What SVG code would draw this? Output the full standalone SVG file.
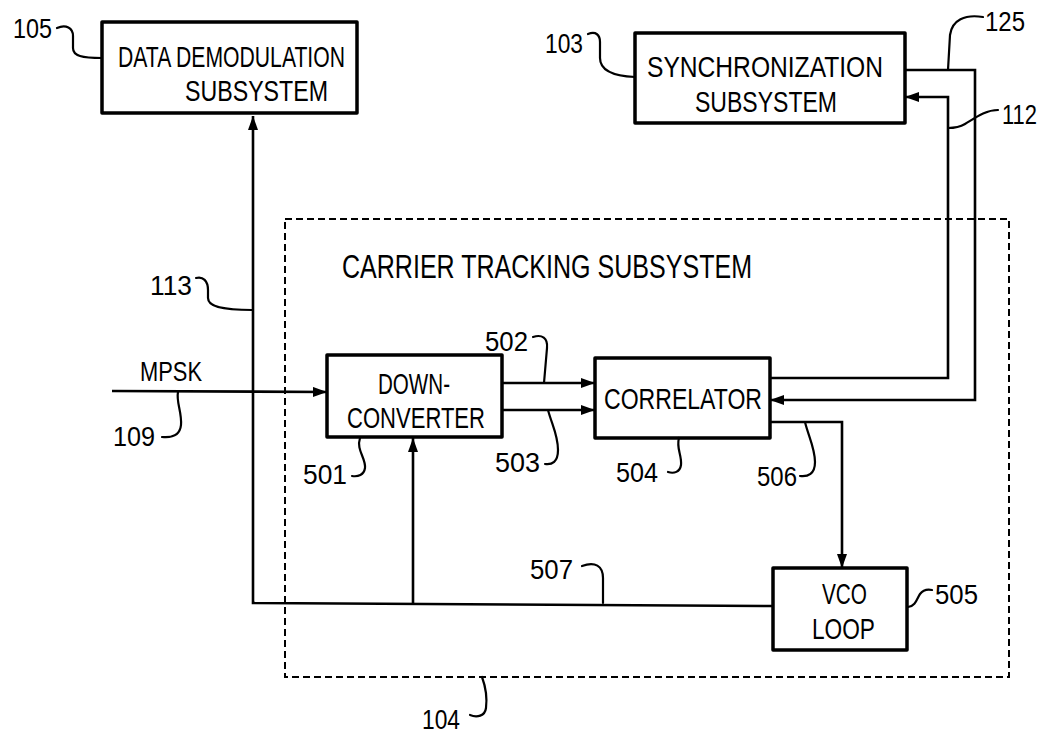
<svg xmlns="http://www.w3.org/2000/svg" width="1049" height="736" viewBox="0 0 1049 736">
<style>
  .box{fill:#fff;stroke:#000;stroke-width:3.5;stroke-linejoin:round}
  .t{font-family:"Liberation Sans",Arial,sans-serif;font-size:29px;fill:#000}
  .h{font-family:"Liberation Sans",Arial,sans-serif;font-size:34px;fill:#000}
  .l{font-family:"Liberation Sans",Arial,sans-serif;font-size:28px;fill:#000}
  .c{fill:none;stroke:#000;stroke-width:2.6}
  .ld{fill:none;stroke:#000;stroke-width:2.2;stroke-linecap:round}
  .dash{fill:none;stroke:#000;stroke-width:2;stroke-dasharray:7 4}
</style>
<defs>
  <marker id="ah" viewBox="0 0 14 10" refX="14" refY="5" markerWidth="14" markerHeight="10" orient="auto" markerUnits="userSpaceOnUse">
    <path d="M0,0 L14,5 L0,10 z" fill="#000"/>
  </marker>
</defs>
<rect width="1049" height="736" fill="#fff"/>

<g id="carrier-tracking-subsystem">
  <rect class="dash" x="285" y="219" width="724" height="458"/>
  <text class="h" x="342" y="278" textLength="410" lengthAdjust="spacingAndGlyphs">CARRIER TRACKING SUBSYSTEM</text>
</g>

<g id="connectors">
  <path class="c" d="M773,606 L253,603 L253,116" marker-end="url(#ah)"/>
  <path class="c" d="M413,603 L413,438" marker-end="url(#ah)"/>
  <path class="c" d="M112,391 L327,392" marker-end="url(#ah)"/>
  <path class="c" d="M502,383 L595,383" marker-end="url(#ah)"/>
  <path class="c" d="M502,410 L595,410" stroke-width="3.6" marker-end="url(#ah)"/>
  <path class="c" d="M770,378 L948,378 L948,97 L905,97" marker-end="url(#ah)"/>
  <path class="c" d="M905,70 L975,70 L975,400 L770,400" marker-end="url(#ah)"/>
  <path class="c" d="M770,422 L842,422 L842,568" marker-end="url(#ah)"/>
</g>

<g id="data-demodulation">
  <rect class="box" x="102" y="22" width="255" height="91"/>
  <text class="t" x="118" y="67" textLength="227" lengthAdjust="spacingAndGlyphs">DATA DEMODULATION</text>
  <text class="t" x="185" y="101" textLength="143" lengthAdjust="spacingAndGlyphs">SUBSYSTEM</text>
</g>

<g id="synchronization">
  <rect class="box" x="635" y="33" width="270" height="90"/>
  <text class="t" x="647" y="77" textLength="236" lengthAdjust="spacingAndGlyphs">SYNCHRONIZATION</text>
  <text class="t" x="695" y="112" textLength="142" lengthAdjust="spacingAndGlyphs">SUBSYSTEM</text>
</g>

<g id="down-converter">
  <rect class="box" x="327" y="355" width="175" height="82"/>
  <text class="t" x="378" y="394" textLength="72" lengthAdjust="spacingAndGlyphs">DOWN-</text>
  <text class="t" x="347" y="428" textLength="138" lengthAdjust="spacingAndGlyphs">CONVERTER</text>
</g>

<g id="correlator">
  <rect class="box" x="595" y="358" width="175" height="80"/>
  <text class="t" x="604" y="409" textLength="158" lengthAdjust="spacingAndGlyphs">CORRELATOR</text>
</g>

<g id="vco-loop">
  <rect class="box" x="773" y="568" width="134" height="82"/>
  <text class="t" x="822" y="604" textLength="45" lengthAdjust="spacingAndGlyphs">VCO</text>
  <text class="t" x="812" y="639" textLength="63" lengthAdjust="spacingAndGlyphs">LOOP</text>
</g>

<g id="labels">
  <text class="l" x="13" y="38" textLength="39" lengthAdjust="spacingAndGlyphs">105</text>
  <path class="ld" d="M57,28 C66,24 73,28 73,36 L73,48 C73,56 82,58 102,58"/>
  <text class="l" x="545" y="53" textLength="38" lengthAdjust="spacingAndGlyphs">103</text>
  <path class="ld" d="M588,34 C596,31 600,35 600,42 L600,58 C600,70 612,76 635,77"/>
  <text class="l" x="985" y="31" textLength="40" lengthAdjust="spacingAndGlyphs">125</text>
  <path class="ld" d="M983,17 C965,14 952,20 950,35 L948,70"/>
  <text class="l" x="1002" y="124" textLength="35" lengthAdjust="spacingAndGlyphs">112</text>
  <path class="ld" d="M998,110 C985,110 975,118 965,124 C960,127 955,128 948,128"/>
  <text class="l" x="150" y="295" textLength="42" lengthAdjust="spacingAndGlyphs">113</text>
  <path class="ld" d="M196,278 C203,276 208,281 208,290 L208,298 C208,306 220,310 252,310"/>
  <text class="l" x="140" y="381" textLength="62" lengthAdjust="spacingAndGlyphs">MPSK</text>
  <text class="l" x="113" y="446" textLength="42" lengthAdjust="spacingAndGlyphs">109</text>
  <path class="ld" d="M178,392 C176,402 182,412 181,425 C180,435 172,438 162,437"/>
  <text class="l" x="303" y="484" textLength="44" lengthAdjust="spacingAndGlyphs">501</text>
  <path class="ld" d="M360,438 C356,450 366,458 365,468 C364,475 358,477 352,476"/>
  <text class="l" x="485" y="351" textLength="43" lengthAdjust="spacingAndGlyphs">502</text>
  <path class="ld" d="M533,337 C542,334 548,338 547,348 L544,383"/>
  <text class="l" x="495" y="472" textLength="45" lengthAdjust="spacingAndGlyphs">503</text>
  <path class="ld" d="M548,410 C552,425 558,435 558,450 C558,462 552,465 545,464"/>
  <text class="l" x="616" y="482" textLength="42" lengthAdjust="spacingAndGlyphs">504</text>
  <path class="ld" d="M679,438 C676,448 682,455 681,465 C680,472 674,474 668,472"/>
  <text class="l" x="757" y="486" textLength="40" lengthAdjust="spacingAndGlyphs">506</text>
  <path class="ld" d="M805,422 C808,435 815,448 815,462 C815,474 808,477 800,476"/>
  <text class="l" x="530" y="579" textLength="43" lengthAdjust="spacingAndGlyphs">507</text>
  <path class="ld" d="M582,566 C595,561 603,566 603,578 L603,603"/>
  <text class="l" x="935" y="604" textLength="43" lengthAdjust="spacingAndGlyphs">505</text>
  <path class="ld" d="M908,607 C916,606 917,598 920,594 C923,590 927,589 932,590"/>
  <text class="l" x="422" y="729" textLength="38" lengthAdjust="spacingAndGlyphs">104</text>
  <path class="ld" d="M482,677 C486,688 487,700 486,708 C485,716 477,718 470,715"/>
</g>
</svg>
